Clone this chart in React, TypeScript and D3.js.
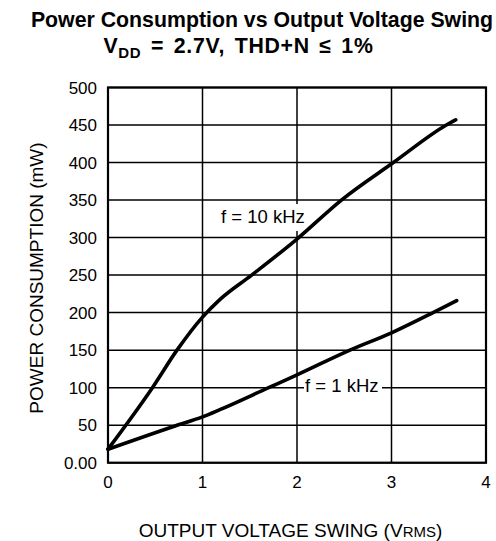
import React from "react";
import * as d3 from "d3";

const xTicks = [0, 1, 2, 3, 4];
const yTicks = [0, 50, 100, 150, 200, 250, 300, 350, 400, 450, 500];
const yTickLabels = ["0.00", "50", "100", "150", "200", "250", "300", "350", "400", "450", "500"];

const volts10k = [0, 0.47, 0.73, 1.0, 1.18, 1.52, 2.0, 2.47, 3.02, 3.58, 3.68];
const power10k = [18, 100, 150, 194, 217, 250, 298, 350, 400, 450, 457];

const volts1k = [0, 0.71, 1.0, 1.19, 1.7, 2.0, 2.56, 3.0, 3.44, 3.69];
const power1k = [18, 49, 61, 71, 100, 117, 150, 173, 200, 216];

const W = 496;
const H = 541;
const M = { left: 108, right: 486, top: 87.5, bottom: 462.7 };
const FONT = "'Liberation Sans', Arial, Helvetica, sans-serif";

export default function App() {
  const x = d3.scaleLinear().domain([0, 4]).range([M.left, M.right]);
  const y = d3.scaleLinear().domain([0, 500]).range([M.bottom, M.top]);
  const line = d3
    .line<[number, number]>()
    .x((d) => x(d[0]))
    .y((d) => y(d[1]))
    .curve(d3.curveMonotoneX);
  const d10 = line(volts10k.map((v, i) => [v, power10k[i]] as [number, number])) || "";
  const d1 = line(volts1k.map((v, i) => [v, power1k[i]] as [number, number])) || "";

  return (
    <svg
      width={W}
      height={H}
      viewBox={`0 0 ${W} ${H}`}
      style={{ position: "absolute", left: 0, top: 0, background: "#fff" }}
      fontFamily={FONT}
    >
      <rect x={0} y={0} width={W} height={H} fill="#fff" />
      <text x={262} y={27} textAnchor="middle" fontSize={21.3} fontWeight="bold" fill="#000">
        Power Consumption vs Output Voltage Swing
      </text>
      <text x={238.5} y={53} textAnchor="middle" fontSize={21.3} fontWeight="bold" fill="#000" wordSpacing={3} letterSpacing={0.7}>
        V<tspan dy={5} fontSize={15}>DD</tspan>
        <tspan dy={-5}> = 2.7V, THD+N ≤ 1%</tspan>
      </text>

      {/* grid */}
      {yTicks.map((t) => (
        <line key={"gy" + t} x1={M.left} x2={M.right} y1={y(t)} y2={y(t)} stroke="#000" strokeWidth={1.5} />
      ))}
      {xTicks.map((t) => (
        <line key={"gx" + t} x1={x(t)} x2={x(t)} y1={M.top} y2={M.bottom} stroke="#000" strokeWidth={1.5} />
      ))}

      {/* label background boxes (mask gridlines) */}
      <rect x={219} y={204} width={91} height={27} fill="#fff" />
      <rect x={304} y={377} width={78} height={20} fill="#fff" />

      <rect
        x={M.left}
        y={M.top}
        width={M.right - M.left}
        height={M.bottom - M.top}
        fill="none"
        stroke="#000"
        strokeWidth={2.2}
      />

      {/* curves */}
      <path d={d10} fill="none" stroke="#000" strokeWidth={3.6} strokeLinecap="round" strokeLinejoin="round" />
      <path d={d1} fill="none" stroke="#000" strokeWidth={3.6} strokeLinecap="round" strokeLinejoin="round" />

      {/* labels */}
      <text x={221} y={223} fontSize={18.5} fill="#000">f = 10 kHz</text>
      <text x={305} y={391.5} fontSize={18.5} fill="#000">f = 1 kHz</text>

      {/* y tick labels */}
      {yTicks.map((t, i) => (
        <text key={"yl" + t} x={97} y={y(t)} dy="0.36em" textAnchor="end" fontSize={17} fill="#000">
          {yTickLabels[i]}
        </text>
      ))}
      {/* x tick labels */}
      {xTicks.map((t) => (
        <text key={"xl" + t} x={x(t)} y={488} textAnchor="middle" fontSize={17} fill="#000">
          {t}
        </text>
      ))}

      <text x={290.5} y={536.5} textAnchor="middle" fontSize={19} fill="#000">
        OUTPUT VOLTAGE SWING (V<tspan fontSize={15}>RMS</tspan>)
      </text>
      <text
        transform={`translate(42.5, 278) rotate(-90)`}
        textAnchor="middle"
        fontSize={19}
        fill="#000"
      >
        POWER CONSUMPTION (mW)
      </text>
    </svg>
  );
}
